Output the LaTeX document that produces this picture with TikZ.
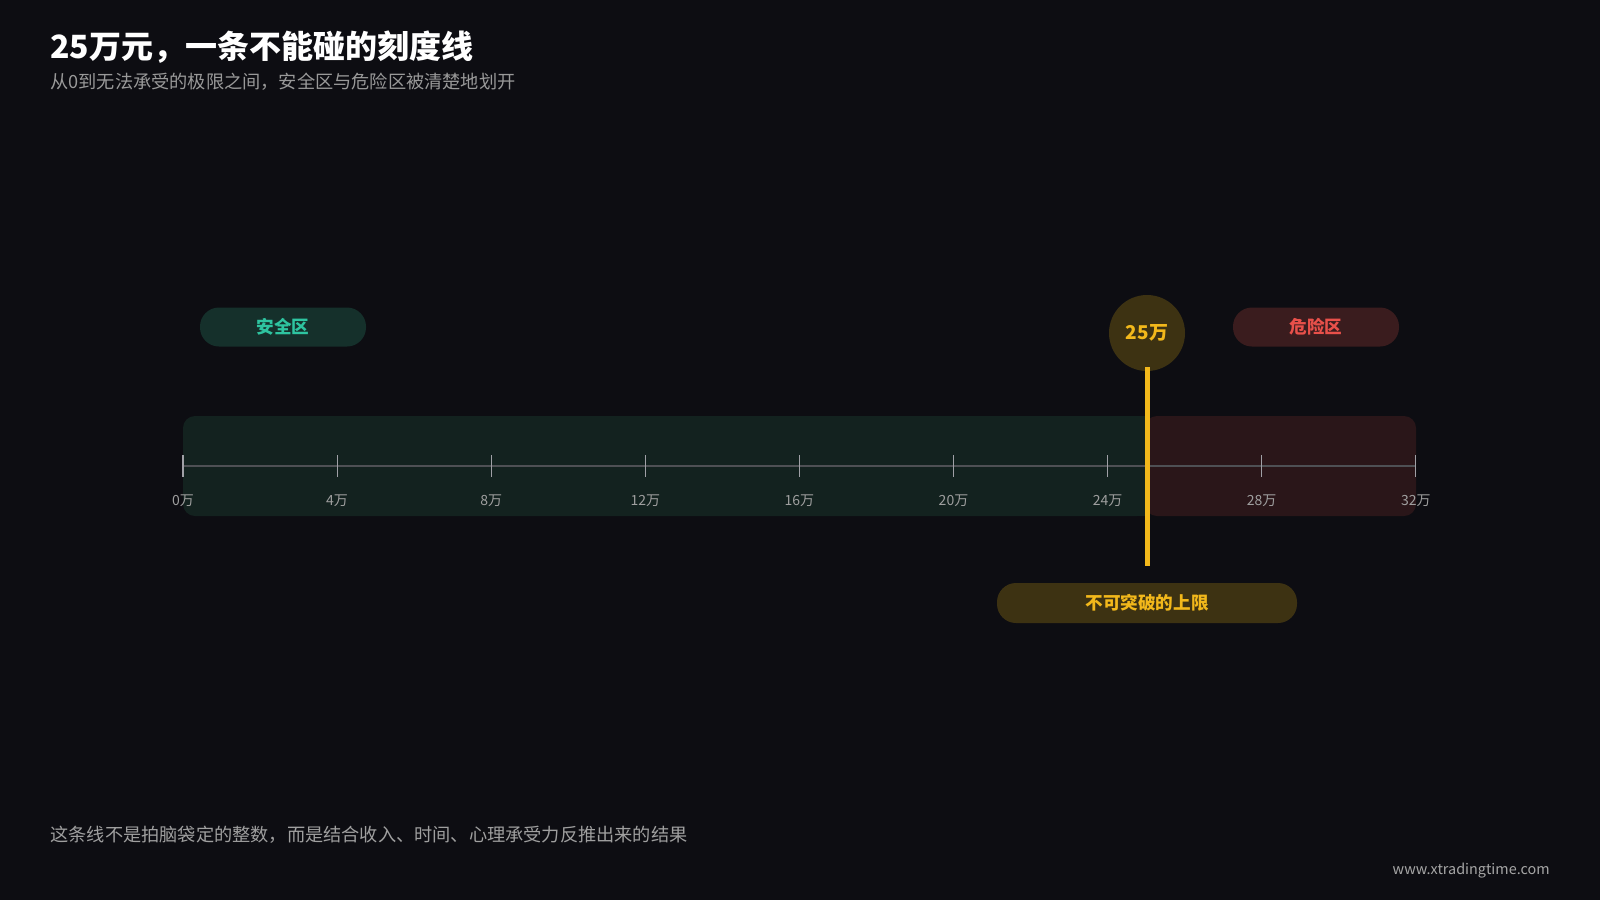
\documentclass[tikz,border=0pt]{standalone}
\usepackage{fontspec}
\setmainfont{Noto Sans CJK SC}
\begin{document}
\begin{tikzpicture}[x=0.5pt,y=-0.5pt,
  txt/.style={inner sep=0pt,anchor=west},
  tick/.style={draw=tickc,line width=0.6pt},
  tlab/.style={inner sep=0pt,text=gray!75,font=\fontsize{7}{8}\selectfont},
  pill/.style={rounded corners=9.5pt,draw=none}]
\definecolor{bg}{HTML}{0D0D12}
\definecolor{gband}{HTML}{13221F}
\definecolor{rband}{HTML}{2A1619}
\definecolor{gpill}{HTML}{15302B}
\definecolor{gtext}{HTML}{2EC4A0}
\definecolor{rpill}{HTML}{3A1C1E}
\definecolor{rtext}{HTML}{E8504A}
\definecolor{ylw}{HTML}{F2B81B}
\definecolor{ypill}{HTML}{3D3212}
\definecolor{axisc}{HTML}{4E5054}
\definecolor{tickc}{HTML}{A0A0A6}
\fill[bg] (0,0) rectangle (1600,900);
\node[txt,text=white,font=\fontsize{16}{18}\selectfont\bfseries] (title) at (50,47) {25万元，一条不能碰的刻度线};
\node[txt,text=gray!80,font=\fontsize{9.1}{11}\selectfont] (sub) at (50,82) {从0到无法承受的极限之间，安全区与危险区被清楚地划开};
\fill[gband,rounded corners=6pt] (183,416) rectangle (1149,516);
\fill[rband,rounded corners=6pt] (1145,416) rectangle (1416,516);
\fill[gband] (1135,416) rectangle (1145,516);
\draw[axisc,line width=1pt] (183,466) -- (1416,466);
\foreach \i/\lab in {0/0,1/4,2/8,3/12,4/16,5/20,6/24,7/28,8/32}{
  \draw[tick] ({183+154.1*\i},455) -- ({183+154.1*\i},477);
  \node[tlab] (t\i) at ({183+154.1*\i},501) {{\lab}万};
}
\node[pill,fill=gpill,minimum width=83pt,minimum height=19.5pt,text=gtext,font=\fontsize{8.8}{10}\selectfont\bfseries] (safe) at (283,327) {安全区};
\node[pill,fill=rpill,minimum width=83pt,minimum height=19.5pt,text=rtext,font=\fontsize{8.8}{10}\selectfont\bfseries] (danger) at (1316,327) {危险区};
\node[circle,fill=ypill,minimum size=38pt,inner sep=0pt,text=ylw,font=\fontsize{9.5}{11}\selectfont\bfseries] (c) at (1147,333) {25万};
\coordinate (lt) at (1147,367);
\coordinate (lb) at (1147,566);
\draw[ylw,line width=2.5pt] (lt) -- (lb);
\node[pill,fill=ypill,minimum width=150pt,minimum height=20pt,text=ylw,font=\fontsize{8.8}{10}\selectfont\bfseries] (lim) at (1147,603) {不可突破的上限};
\node[txt,text=gray!75,font=\fontsize{9.1}{11}\selectfont] (foot) at (50,835) {这条线不是拍脑袋定的整数，而是结合收入、时间、心理承受力反推出来的结果};
\node[inner sep=0pt,anchor=east,text=gray!70,font=\fontsize{7.2}{8}\selectfont] (web) at (1550,871) {www.xtradingtime.com};
\end{tikzpicture}
\end{document}
